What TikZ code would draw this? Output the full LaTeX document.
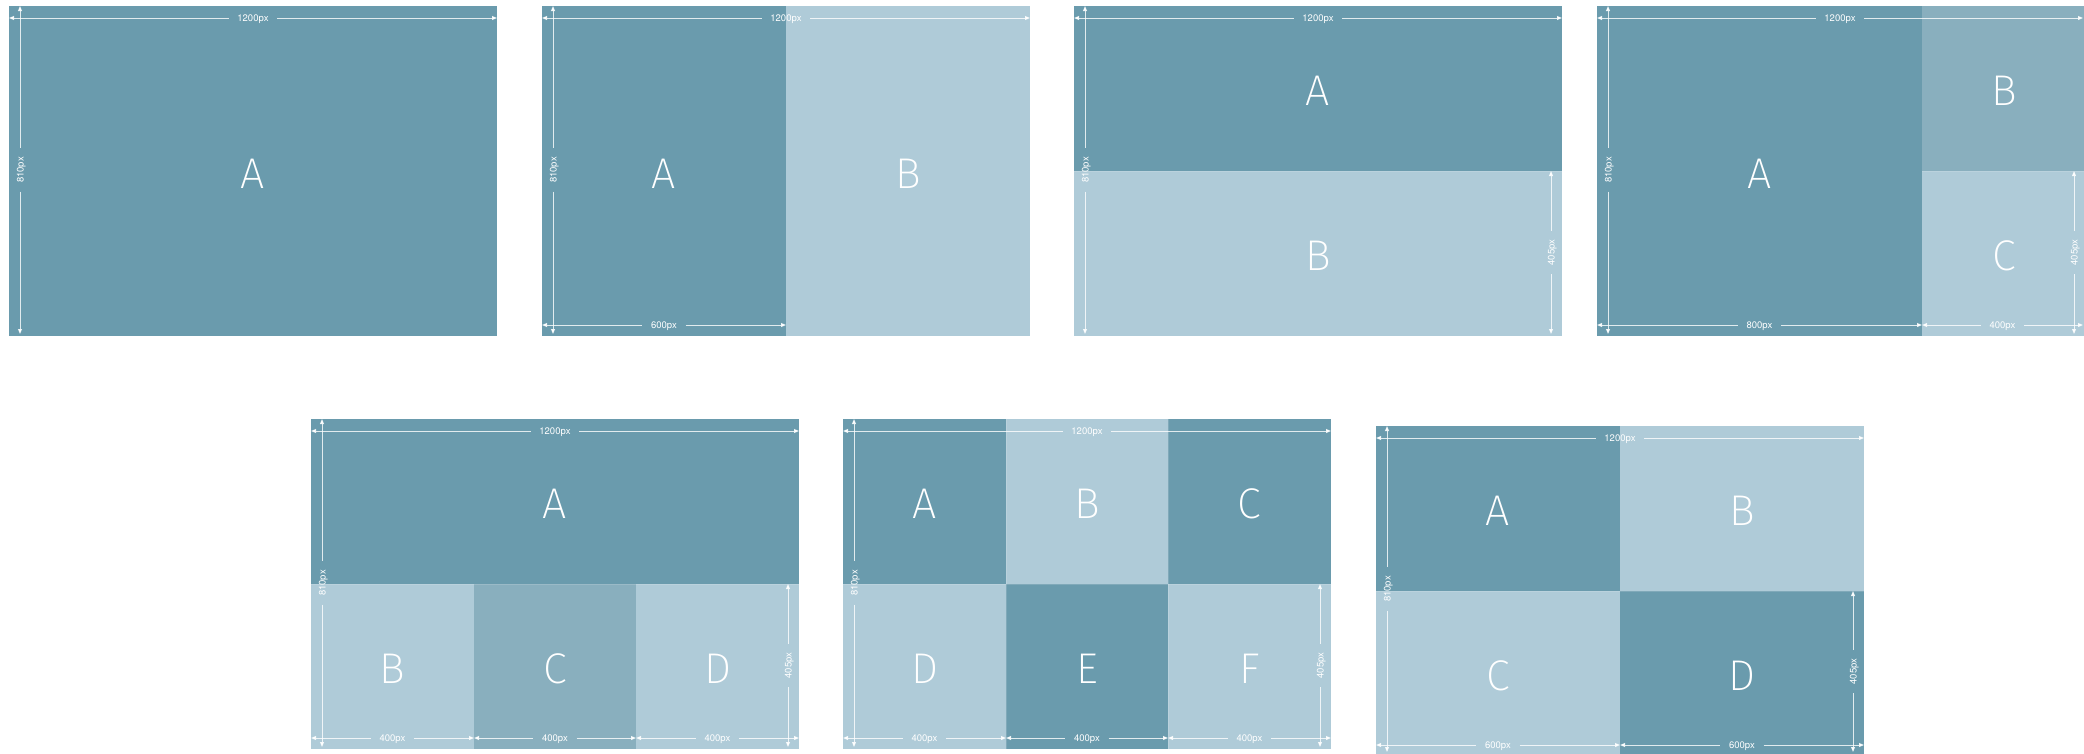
\documentclass[tikz,border=0pt]{standalone}
\usepackage{fontspec}
\usetikzlibrary{arrows.meta}
\newfontfamily\dimfont{TeX Gyre Heros}
\newfontfamily\bigfont{Fira Sans ExtraLight}
\definecolor{dk}{HTML}{6A9BAD}
\definecolor{lt}{HTML}{AFCBD8}
\definecolor{md}{HTML}{89AFBE}
\tikzset{
  dim/.style={draw=white, draw opacity=0.8, line width=0.9pt},
  tipL/.style={{Triangle[length=5pt,width=4pt]}-},
  tipR/.style={-{Triangle[length=5pt,width=4pt]}},
  dimlbl/.style={text=white, font=\dimfont\fontsize{9.5}{10}\selectfont, inner xsep=8.5pt, inner ysep=0pt, text height=7pt, text depth=0pt},
  big/.style={text=white, font=\bigfont\fontsize{43}{45}\selectfont, anchor=base, inner sep=0pt},
  seam/.style={draw=white, draw opacity=0.15, line width=1pt}
}
\newcommand\hdim[5]{%
  \coordinate (#1s) at (#2,#4);
  \coordinate (#1e) at (#3,#4);
  \node[dimlbl] (#1) at ({(#2+#3)/2},#4) {#5};
  \draw[dim,tipL] (#1s) -- (#1);
  \draw[dim,tipR] (#1) -- (#1e);
}
\newcommand\vdim[5]{%
  \coordinate (#1s) at (#2,#3);
  \coordinate (#1e) at (#2,#4);
  \node[dimlbl,rotate=90] (#1) at (#2,{(#3+#4)/2}) {#5};
  \draw[dim,tipL] (#1s) -- (#1);
  \draw[dim,tipR] (#1) -- (#1e);
}
\begin{document}
\begin{tikzpicture}[x=1pt,y=-1pt]
\useasboundingbox[fill=white] (0,0) rectangle (2084,753);
% ---------- Panel 1 ----------
\fill[dk] (9,6) rectangle (497,336);
\node[big] (p1A) at (253,188) {A};
\hdim{p1w}{9}{497}{18}{1200px}
\vdim{p1h}{20}{6}{334}{810px}
% ---------- Panel 2 ----------
\fill[dk] (542,6) rectangle (786,336);
\fill[lt] (786,6) rectangle (1030,336);
\node[big] (p2A) at (664,188) {A};
\node[big] (p2B) at (908,188) {B};
\hdim{p2w}{542}{1030}{18}{1200px}
\vdim{p2h}{553}{6}{334}{810px}
\hdim{p2a}{542}{786}{325}{600px}
% ---------- Panel 3 ----------
\fill[dk] (1074,6) rectangle (1562,171);
\fill[lt] (1074,171) rectangle (1562,336);
\draw[seam] (1074,171) -- (1562,171);
\node[big] (p3A) at (1318,105.5) {A};
\node[big] (p3B) at (1318,270.5) {B};
\hdim{p3w}{1074}{1562}{18}{1200px}
\vdim{p3h}{1085}{6}{334}{810px}
\vdim{p3r}{1551}{171}{334}{405px}
% ---------- Panel 4 ----------
\fill[dk] (1597,6) rectangle (1922,336);
\fill[md] (1922,6) rectangle (2085,171);
\fill[lt] (1922,171) rectangle (2085,336);
\draw[seam] (1922,171) -- (2085,171);
\node[big] (p4A) at (1759.5,188) {A};
\node[big] (p4B) at (2004,105.5) {B};
\node[big] (p4C) at (2004,270.5) {C};
\hdim{p4w}{1597}{2083}{18}{1200px}
\vdim{p4h}{1608}{6}{334}{810px}
\hdim{p4a}{1597}{1922}{325}{800px}
\hdim{p4b}{1922}{2083}{325}{400px}
\vdim{p4r}{2074}{171}{334}{405px}
% ---------- Panel 5 ----------
\fill[dk] (311,419) rectangle (799,584);
\fill[lt] (311,584) rectangle (474,749);
\fill[md] (474,584) rectangle (636,749);
\fill[lt] (636,584) rectangle (799,749);
\draw[seam] (311,584) -- (799,584);
\node[big] (p5A) at (555,518.5) {A};
\node[big] (p5B) at (392.5,683.5) {B};
\node[big] (p5C) at (555,683.5) {C};
\node[big] (p5D) at (717.5,683.5) {D};
\hdim{p5w}{311}{799}{431}{1200px}
\vdim{p5h}{322}{419}{747}{810px}
\hdim{p5a}{311}{474}{738}{400px}
\hdim{p5b}{474}{636}{738}{400px}
\hdim{p5c}{636}{799}{738}{400px}
\vdim{p5r}{788}{584}{747}{405px}
% ---------- Panel 6 ----------
\fill[dk] (843,419) rectangle (1006,584);
\fill[lt] (1006,419) rectangle (1168,584);
\fill[dk] (1168,419) rectangle (1331,584);
\fill[lt] (843,584) rectangle (1006,749);
\fill[dk] (1006,584) rectangle (1168,749);
\fill[lt] (1168,584) rectangle (1331,749);
\draw[seam] (843,584) -- (1331,584);
\draw[seam] (1006,419) -- (1006,749);
\draw[seam] (1168,419) -- (1168,749);
\node[big] (p6A) at (924.5,518.5) {A};
\node[big] (p6B) at (1087,518.5) {B};
\node[big] (p6C) at (1249.5,518.5) {C};
\node[big] (p6D) at (924.5,683.5) {D};
\node[big] (p6E) at (1087,683.5) {E};
\node[big] (p6F) at (1249.5,683.5) {F};
\hdim{p6w}{843}{1331}{431}{1200px}
\vdim{p6h}{854}{419}{747}{810px}
\hdim{p6a}{843}{1006}{738}{400px}
\hdim{p6b}{1006}{1168}{738}{400px}
\hdim{p6c}{1168}{1331}{738}{400px}
\vdim{p6r}{1320}{584}{747}{405px}
% ---------- Panel 7 ----------
\fill[dk] (1376,426) rectangle (1620,591);
\fill[lt] (1620,426) rectangle (1864,591);
\fill[lt] (1376,591) rectangle (1620,756);
\fill[dk] (1620,591) rectangle (1864,756);
\draw[seam] (1376,591) -- (1864,591);
\node[big] (p7A) at (1498,525.5) {A};
\node[big] (p7B) at (1742,525.5) {B};
\node[big] (p7C) at (1498,690.5) {C};
\node[big] (p7D) at (1742,690.5) {D};
\hdim{p7w}{1376}{1864}{438}{1200px}
\vdim{p7h}{1387}{426}{752}{810px}
\hdim{p7a}{1376}{1620}{745}{600px}
\hdim{p7b}{1620}{1864}{745}{600px}
\vdim{p7r}{1853}{591}{752}{405px}
\end{tikzpicture}
\end{document}
